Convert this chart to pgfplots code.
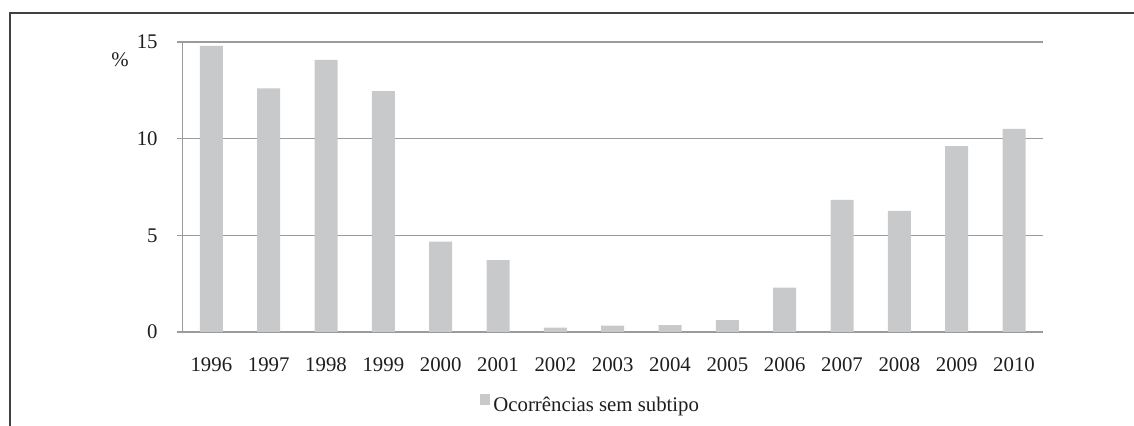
\documentclass[border=0pt]{standalone}
\usepackage{fontspec}
\setmainfont{Liberation Serif}
\usepackage{pgfplots}
\pgfplotsset{compat=1.18}
\definecolor{barc}{RGB}{200,201,203}
\definecolor{gridc}{RGB}{155,155,155}
\definecolor{framec}{RGB}{64,64,64}
\definecolor{txtc}{RGB}{30,30,30}
\newcommand{\lblfont}{\fontsize{10.4}{12}\selectfont}
\begin{document}
\begin{tikzpicture}
\useasboundingbox (-91.35pt,-47pt) rectangle (475.65pt,166pt);
\draw[framec, line width=1pt] (-86.35pt,-47pt) -- (-86.35pt,159.5pt) -- (475.65pt,159.5pt);
\begin{axis}[
  scale only axis,
  width=430pt, height=145pt,
  at={(0,0)}, anchor=south west,
  ybar, bar width=11.5pt, bar shift=0pt,
  xmin=-0.5, xmax=14.5,
  ymin=0, ymax=15,
  axis x line=bottom, axis y line=left,
  axis line style={gridc, line width=0.7pt, -},
  xtick={0,...,14},
  xticklabels={1996,1997,1998,1999,2000,2001,2002,2003,2004,2005,2006,2007,2008,2009,2010},
  x tick style={draw=none},
  extra x ticks={-0.5,0.5,1.5,2.5,3.5,4.5,5.5,6.5,7.5,8.5,9.5,10.5,11.5,12.5,13.5,14.5},
  extra x tick labels={},
  extra x tick style={major tick length=3pt, tick align=outside, grid=none, tick style={gridc, line width=0.6pt}},
  ytick={0,5,10,15},
  y tick style={gridc, line width=0.6pt},
  major tick length=3pt, tick align=outside,
  ymajorgrids, grid style={gridc, line width=0.7pt},
  /pgf/number format/assume math mode=true,
  tick label style={font=\lblfont, text=txtc},
  yticklabel style={anchor=east, inner sep=0pt, xshift=-9.35pt},
  xticklabel style={anchor=north, inner sep=0pt, yshift=-9.5pt},
  legend style={draw=none, at={(rel axis cs:0.3457,-0.249)}, anchor=west, inner sep=0pt, column sep=1.5pt, font=\lblfont, text=txtc, nodes={inner sep=0pt}},
  legend image code/.code={\fill[barc] (0pt,0.5pt) rectangle (5pt,6pt);},
  clip=false,
]
\addplot[fill=barc, draw=none] coordinates {
(0,14.80) (1,12.60) (2,14.08) (3,12.46) (4,4.68) (5,3.72) (6,0.22) (7,0.33)
(8,0.36) (9,0.62) (10,2.30) (11,6.83) (12,6.27) (13,9.62) (14,10.50)};
\addlegendentry{Ocorrências sem subtipo}
\node[font=\lblfont, text=txtc, anchor=center, inner sep=0pt] at (rel axis cs:-0.0729,0.938) {\%};
\end{axis}
\end{tikzpicture}
\end{document}
